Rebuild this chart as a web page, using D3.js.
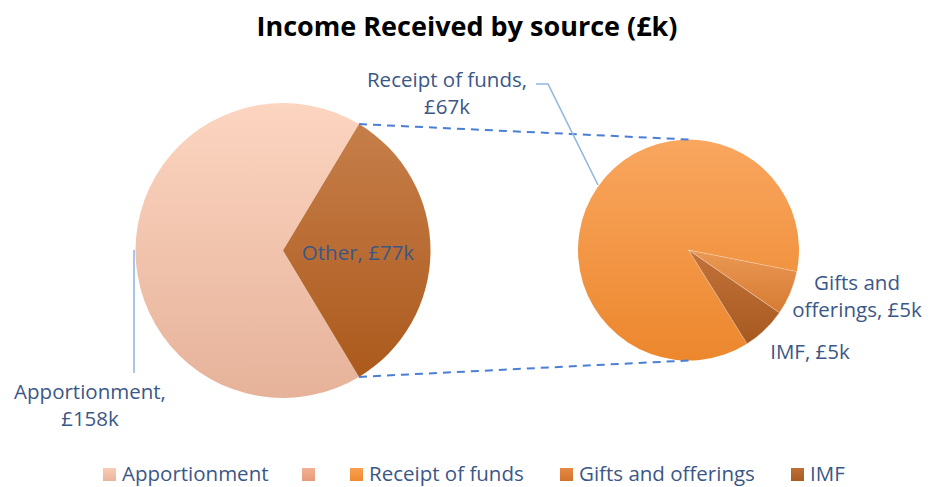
<!DOCTYPE html>
<html>
<head>
<meta charset="utf-8">
<script src="https://cdn.jsdelivr.net/npm/d3@7"></script>
<style>
  body { margin: 0; background: #fff; }
  svg { display: block; font-family: "Open Sans", "Noto Sans", sans-serif; }
</style>
</head>
<body>
<script>
const WIDTH = 929;
const HEIGHT = 487;
const LABEL_COLOR = "#3b5787";
const LEADER_COLOR = "#92b6e4";
const CONNECTOR_COLOR = "#4a7fd4";

// primary pie
const primaryLabels = ["Apportionment", "Other"];
const primaryValues = [158, 77];

// secondary pie (breakdown of "Other")
const secondaryLabels = ["Receipt of funds", "Gifts and offerings", "IMF"];
const secondaryValues = [67, 5, 5];

const legendLabels = ["Apportionment", "", "Receipt of funds", "Gifts and offerings", "IMF"];

const primaryFills = [
  ["#fcd5c0", "#e6b29a"],
  ["#c67e4a", "#ac5a1c"],
];
const secondaryFills = [
  ["#f9a65f", "#ec872d"],
  ["#ea9954", "#d67a33"],
  ["#c3733a", "#a65920"],
];
const legendFills = [
  ["#f9cdb5", "#eab39a"],
  ["#f3b293", "#e69c78"],
  ["#f9a052", "#ef8a30"],
  ["#e68a45", "#d2732c"],
  ["#bf6f35", "#a95b22"],
];

const rad = (deg) => (deg * Math.PI) / 180;

const svg = d3
  .select("body")
  .append("svg")
  .attr("width", WIDTH)
  .attr("height", HEIGHT);

svg.append("rect").attr("width", WIDTH).attr("height", HEIGHT).attr("fill", "#fff");

const defs = svg.append("defs");
const addGradient = (id, stops) => {
  const grad = defs
    .append("linearGradient")
    .attr("id", id)
    .attr("x1", 0)
    .attr("y1", 0)
    .attr("x2", 0)
    .attr("y2", 1);
  grad.append("stop").attr("offset", "0%").attr("stop-color", stops[0]);
  grad.append("stop").attr("offset", "100%").attr("stop-color", stops[1]);
};
primaryFills.forEach((s, i) => addGradient(`p${i}`, s));
secondaryFills.forEach((s, i) => addGradient(`s${i}`, s));
legendFills.forEach((s, i) => addGradient(`l${i}`, s));

svg
  .append("text")
  .attr("x", 467)
  .attr("y", 36)
  .attr("text-anchor", "middle")
  .attr("font-size", "27px")
  .attr("font-weight", "bold")
  .attr("fill", "#000")
  .text("Income Received by source (£k)");

// primary pie: "Other" centred on the right-hand side
const P = { cx: 283, cy: 250.5, r: 147.5 };
const total = d3.sum(primaryValues);
const otherSweep = (2 * Math.PI * primaryValues[1]) / total;
const primaryStart = Math.PI / 2 + otherSweep / 2;

const primaryPie = d3
  .pie()
  .sort(null)
  .startAngle(primaryStart)
  .endAngle(primaryStart + 2 * Math.PI);
const primaryArcs = primaryPie(primaryValues);
const arcP = d3.arc().innerRadius(0).outerRadius(P.r);

svg
  .append("g")
  .attr("transform", `translate(${P.cx},${P.cy})`)
  .selectAll("path")
  .data(primaryArcs)
  .join("path")
  .attr("d", arcP)
  .attr("fill", (d, i) => `url(#p${i})`);

// secondary pie
const S = { cx: 688.5, cy: 250, r: 110.5 };
const secondaryStart = rad(148);
const secondaryPie = d3
  .pie()
  .sort(null)
  .startAngle(secondaryStart)
  .endAngle(secondaryStart + 2 * Math.PI);
const secondaryArcs = secondaryPie(secondaryValues);
const arcS = d3.arc().innerRadius(0).outerRadius(S.r);

svg
  .append("g")
  .attr("transform", `translate(${S.cx},${S.cy})`)
  .selectAll("path")
  .data(secondaryArcs)
  .join("path")
  .attr("d", arcS)
  .attr("fill", (d, i) => `url(#s${i})`)
  .attr("stroke", (d, i) => (i === 0 ? "none" : "rgba(255,255,255,0.35)"))
  .attr("stroke-width", 0.8);

// connector lines from the edges of "Other" to the secondary pie
const otherArc = primaryArcs[1];
const edgePoint = (a) => [P.cx + P.r * Math.sin(a), P.cy - P.r * Math.cos(a)];
const [tx, ty] = edgePoint(otherArc.startAngle);
const [bx, by] = edgePoint(otherArc.endAngle);
svg
  .append("g")
  .attr("stroke", CONNECTOR_COLOR)
  .attr("stroke-width", 2)
  .attr("stroke-dasharray", "8,6")
  .selectAll("line")
  .data([
    [tx, ty, S.cx, S.cy - S.r],
    [bx, by, S.cx, S.cy + S.r],
  ])
  .join("line")
  .attr("x1", (d) => d[0])
  .attr("y1", (d) => d[1])
  .attr("x2", (d) => d[2])
  .attr("y2", (d) => d[3]);

// leader lines
const leaders = svg
  .append("g")
  .attr("fill", "none")
  .attr("stroke", LEADER_COLOR)
  .attr("stroke-width", 1.6);
leaders
  .append("polyline")
  .attr("points", "536,84 548,84 598,185");
leaders
  .append("line")
  .attr("x1", 134)
  .attr("y1", 250)
  .attr("x2", 134)
  .attr("y2", 373);

// data labels
const fmt = (v) => `£${v}k`;
const labels = [
  { lines: [`${primaryLabels[0]},`, fmt(primaryValues[0])], x: 90, y: 399 },
  { lines: [`${primaryLabels[1]}, ${fmt(primaryValues[1])}`], x: 358, y: 260 },
  { lines: [`${secondaryLabels[0]},`, fmt(secondaryValues[0])], x: 447, y: 87 },
  { lines: ["Gifts and", `offerings, ${fmt(secondaryValues[1])}`], x: 857, y: 290 },
  { lines: [`${secondaryLabels[2]}, ${fmt(secondaryValues[2])}`], x: 810, y: 359 },
];

svg
  .append("g")
  .attr("fill", LABEL_COLOR)
  .attr("font-size", "20.5px")
  .attr("text-anchor", "middle")
  .selectAll("text")
  .data(labels)
  .join("text")
  .attr("x", (d) => d.x)
  .attr("y", (d) => d.y)
  .each(function (d) {
    d3.select(this)
      .selectAll("tspan")
      .data(d.lines)
      .join("tspan")
      .attr("x", d.x)
      .attr("dy", (l, i) => (i === 0 ? 0 : 27))
      .text((l) => l);
  });

// legend
const legendX = [103, 302, 350, 560, 791];
const legend = svg
  .append("g")
  .selectAll("g")
  .data(legendLabels)
  .join("g")
  .attr("transform", (d, i) => `translate(${legendX[i]},468)`);
legend
  .append("rect")
  .attr("width", 13)
  .attr("height", 13)
  .attr("fill", (d, i) => `url(#l${i})`);
legend
  .append("text")
  .attr("x", 19)
  .attr("y", 13)
  .attr("font-size", "20.5px")
  .attr("fill", LABEL_COLOR)
  .text((d) => d);
</script>
</body>
</html>
